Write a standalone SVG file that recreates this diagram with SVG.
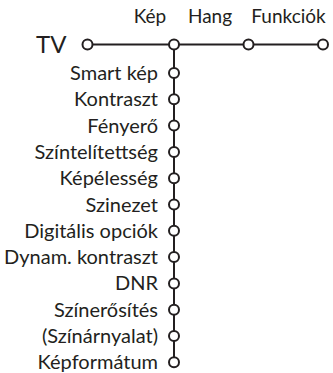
<svg xmlns="http://www.w3.org/2000/svg" width="333" height="373" viewBox="0 0 333 373">
<style>
text{font-family:Lato,"Open Sans","Liberation Sans",sans-serif;fill:#231f20}
.top{font-size:19px;text-anchor:middle}
.item{font-size:20px;text-anchor:end}
.tv{font-size:24px;text-anchor:start}
.ln{stroke:#231f20;stroke-width:2;fill:none}
circle{fill:#fff;stroke:#231f20;stroke-width:2}
</style>
<rect width="333" height="373" fill="#fff"/>
<g id="connectors">
<line class="ln" x1="87" y1="44.5" x2="323" y2="44.5"/>
<line class="ln" x1="174" y1="44.5" x2="174" y2="362"/>
</g>
<g id="tv"><text class="tv" x="36" y="53">TV</text><circle cx="87.5" cy="44.5" r="5"/></g>
<g id="kep"><text class="top" x="150" y="23">Kép</text><circle cx="174" cy="44.5" r="5"/></g>
<g id="hang"><text class="top" x="210" y="23">Hang</text><circle cx="248.5" cy="44.5" r="5"/></g>
<g id="funkciok"><text class="top" x="288.5" y="23">Funkciók</text><circle cx="323" cy="44.5" r="5"/></g>
<g id="i1"><text class="item" x="158" y="80">Smart kép</text><circle cx="174" cy="73" r="5"/></g>
<g id="i2"><text class="item" x="158" y="106.3">Kontraszt</text><circle cx="174" cy="99.3" r="5"/></g>
<g id="i3"><text class="item" x="158" y="132.6">Fényerő</text><circle cx="174" cy="125.6" r="5"/></g>
<g id="i4"><text class="item" x="158" y="158.9">Színtelítettség</text><circle cx="174" cy="151.9" r="5"/></g>
<g id="i5"><text class="item" x="158" y="185.2">Képélesség</text><circle cx="174" cy="178.2" r="5"/></g>
<g id="i6"><text class="item" x="158" y="211.5">Szinezet</text><circle cx="174" cy="204.5" r="5"/></g>
<g id="i7"><text class="item" x="158" y="237.8">Digitális opciók</text><circle cx="174" cy="230.8" r="5"/></g>
<g id="i8"><text class="item" x="158" y="264.1">Dynam. kontraszt</text><circle cx="174" cy="257.1" r="5"/></g>
<g id="i9"><text class="item" x="158" y="290.4">DNR</text><circle cx="174" cy="283.4" r="5"/></g>
<g id="i10"><text class="item" x="158" y="316.7">Színerősítés</text><circle cx="174" cy="309.7" r="5"/></g>
<g id="i11"><text class="item" x="158" y="343">(Színárnyalat)</text><circle cx="174" cy="336" r="5"/></g>
<g id="i12"><text class="item" x="158" y="369.3">Képformátum</text><circle cx="174" cy="362.3" r="5"/></g>
</svg>
